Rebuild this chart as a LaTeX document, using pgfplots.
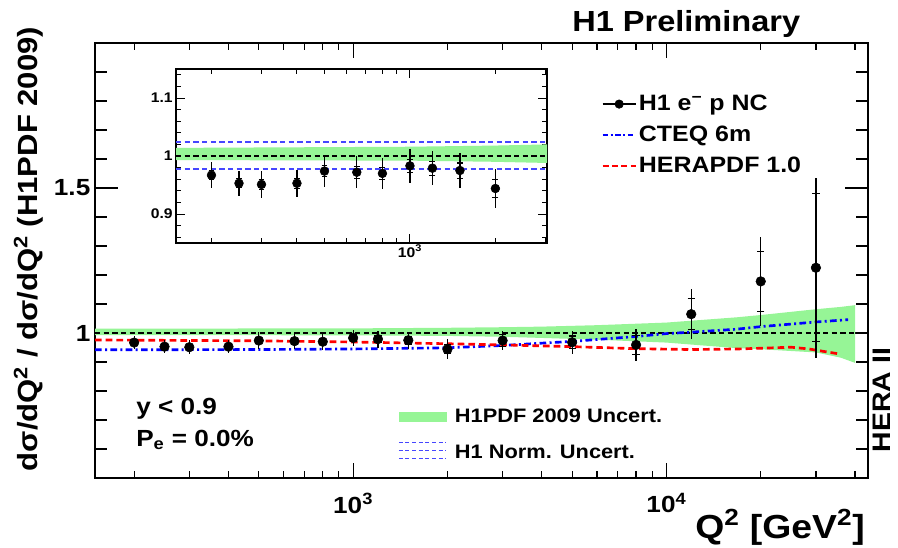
\documentclass[border=0pt]{standalone}
\usepackage{pgfplots}
\usepackage{pgfplotstable}
\pgfplotsset{compat=1.18}
\usepackage{fontspec}
\setmainfont{Liberation Sans}[FakeStretch=1.12]
\definecolor{bandgreen}{RGB}{150,245,150}
\definecolor{normblue}{RGB}{70,70,255}

\pgfplotstableread{
q y tot stat
200 0.967 0.022 0.008
250 0.953 0.022 0.008
300 0.951 0.024 0.009
400 0.953 0.023 0.009
500 0.974 0.028 0.010
650 0.972 0.028 0.010
800 0.970 0.027 0.010
1000 0.983 0.029 0.011
1200 0.979 0.029 0.012
1500 0.975 0.030 0.013
2000 0.944 0.034 0.016
3000 0.974 0.034 0.020
5000 0.968 0.040 0.022
8000 0.959 0.054 0.033
12000 1.065 0.086 0.054
20000 1.178 0.154 0.103
30000 1.225 0.310 0.255
}\hone

\pgfplotstableread{
q y tot stat
200 0.967 0.022 0.008
250 0.953 0.022 0.008
300 0.951 0.024 0.009
400 0.953 0.023 0.009
500 0.974 0.028 0.010
650 0.972 0.028 0.010
800 0.970 0.027 0.010
1000 0.983 0.029 0.011
1200 0.979 0.029 0.012
1500 0.975 0.030 0.013
2000 0.944 0.034 0.016
}\honeinset

\begin{document}
\begin{tikzpicture}
\useasboundingbox (0pt,0pt) rectangle (673.5pt,-410.25pt);

% ---------------- main axis (data + y ticks)
\begin{axis}[
  at={(71.25pt,-358.5pt)}, anchor=south west, scale only axis,
  width=579.75pt, height=326.25pt,
  xmode=log, xmin=150, xmax=44000, ymin=0.5, ymax=2.0,
  axis line style={line width=1.6pt},
  ytick={0.5,1,1.5,2}, yticklabels={,1,1.5,}, minor y tick num=4,
  xtick=\empty, minor xtick={},
  tick align=inside, tick pos=both,
  major tick length=17pt, minor tick length=9pt,
  tick style={line width=0.9pt, black},
  yticklabel style={font=\fontsize{17.5}{20}\selectfont\bfseries},
  clip=true,
]
\addplot[fill=bandgreen, draw=none] coordinates {
 (150,1.015) (1000,1.016) (2000,1.018) (3000,1.020) (4000,1.022) (6000,1.027)
 (10000,1.036) (16700,1.054) (20000,1.062) (30000,1.082) (36000,1.090) (40000,1.096)
 (40000,0.897) (36000,0.915) (30000,0.933) (20000,0.944) (16700,0.948) (10000,0.967)
 (6000,0.977) (4000,0.983) (3000,0.987) (2000,0.990) (1000,0.992) (150,0.993)} -- cycle;
\addplot[black, line width=0.9pt, dash pattern=on 4pt off 2.5pt] coordinates {(150,1) (40000,1)};
\addplot[blue, line width=2pt, dash pattern=on 5pt off 2.5pt on 1.5pt off 2.5pt] coordinates {
 (150,0.942) (500,0.943) (1000,0.945) (2000,0.949) (3000,0.957) (4000,0.965) (5000,0.971)
 (8000,0.988) (10000,0.998) (12000,1.003) (16700,1.013) (20000,1.022) (30000,1.038) (38000,1.046)};
\addplot[red, line width=2pt, dash pattern=on 5pt off 3pt] coordinates {
 (150,0.976) (500,0.973) (1000,0.969) (2000,0.963) (3000,0.959) (5000,0.953) (8000,0.946)
 (12000,0.943) (17000,0.945) (25000,0.951) (28500,0.945) (32000,0.936) (36000,0.927)};
\addplot[black, only marks, mark=*, mark size=3.6pt,
  error bars/.cd, y dir=both, y explicit, error mark=none,
  error bar style={line width=0.9pt, black}] table[x=q, y=y, y error=tot] {\hone};
\addplot[black, only marks, mark=none,
  error bars/.cd, y dir=both, y explicit, error mark=|,
  error mark options={line width=0.9pt, mark size=2.7pt, black},
  error bar style={line width=0.9pt, black}] table[x=q, y=y, y error=stat] {\hone};
\end{axis}

% ---------------- overlay axis (x ticks + top legend)
\begin{axis}[
  at={(71.25pt,-358.5pt)}, anchor=south west, scale only axis,
  width=579.75pt, height=326.25pt,
  xmode=log, xmin=150, xmax=44000, ymin=0.5, ymax=2.0,
  axis line style={draw=none},
  ytick=\empty,
  xtick={1000,10000}, xticklabels={10\textsuperscript{3},10\textsuperscript{4}},
  minor xtick={200,300,400,500,600,700,800,900,2000,3000,4000,5000,6000,7000,8000,9000,20000,30000,40000},
  tick align=inside, tick pos=both,
  major tick length=11.25pt, minor tick length=5.6pt,
  tick style={line width=0.9pt, black},
  xticklabel style={font=\fontsize{17.5}{20}\selectfont\bfseries, yshift=-8pt},
  legend style={at={(0.6546,0.885)}, anchor=north west, draw=none, fill=none,
    inner sep=0pt, font=\fontsize{16.7}{20}\selectfont\bfseries, row sep=7pt,
    nodes={inner sep=1.5pt}},
  legend cell align=left,
]
\addlegendimage{legend image code/.code={\draw[black, line width=0.9pt] (0pt,0pt) -- (24.75pt,0pt); \fill[black] (12.4pt,0pt) circle (3.2pt);}}
\addlegendentry{H1 e\textsuperscript{\char"2212} p NC}
\addlegendimage{legend image code/.code={\draw[blue, line width=2pt, dash pattern=on 4pt off 2pt on 1.5pt off 2pt] (0pt,0pt) -- (24.75pt,0pt);}}
\addlegendentry{CTEQ 6m}
\addlegendimage{legend image code/.code={\draw[red, line width=2pt, dash pattern=on 4.5pt off 2.5pt] (0pt,0pt) -- (24.75pt,0pt);}}
\addlegendentry{HERAPDF 1.0}
\end{axis}

% ---------------- overlay axis (bottom legend)
\begin{axis}[
  at={(71.25pt,-358.5pt)}, anchor=south west, scale only axis,
  width=579.75pt, height=326.25pt,
  xmin=0, xmax=1, ymin=0, ymax=1, hide axis,
  legend style={at={(0.392,0.1632)}, anchor=north west, draw=none, fill=none,
    inner sep=0pt, font=\fontsize{14.6}{18}\selectfont\bfseries, row sep=11pt,
    nodes={inner sep=1.5pt},
    /tikz/every odd column/.append style={column sep=5pt}},
  legend cell align=left,
]
\addlegendimage{legend image code/.code={\fill[bandgreen] (0pt,-3.4pt) rectangle (35.25pt,3.4pt);}}
\addlegendentry{H1PDF 2009 Uncert.}
\addlegendimage{legend image code/.code={
  \draw[draw=normblue, line width=0.75pt, dash pattern=on 3pt off 2pt] (0pt,8pt) -- (35.25pt,8pt);
  \draw[draw=normblue, line width=0.75pt, dash pattern=on 3pt off 2pt] (0pt,2pt) -- (35.25pt,2pt);
  \draw[draw=normblue, line width=0.75pt, dash pattern=on 3pt off 2pt] (0pt,-4.5pt) -- (35.25pt,-4.5pt);}}
\addlegendentry{H1 Norm. Uncert.}
\end{axis}

% ---------------- inset
\begin{axis}[
  at={(132pt,-182.25pt)}, anchor=south west, scale only axis,
  width=278.25pt, height=130.5pt,
  xmode=log, xmin=150, xmax=3040, ymin=0.85, ymax=1.15,
  axis background/.style={fill=white},
  axis line style={line width=0.9pt},
  ytick={0.8,0.9,1,1.1,1.2}, yticklabels={,0.9,1,1.1,}, minor y tick num=4,
  xtick={1000}, xticklabels={10\textsuperscript{3}},
  minor xtick={200,300,400,500,600,700,800,900,2000,3000},
  tick align=inside, tick pos=both,
  major tick length=6.5pt, minor tick length=3.6pt,
  tick style={line width=0.7pt, black},
  ticklabel style={font=\fontsize{10.5}{12}\selectfont\bfseries},
  yticklabel style={xshift=1pt},
  xticklabel style={yshift=2pt},
  clip=true,
]
\addplot[fill=bandgreen, draw=none] coordinates {
 (150,1.014) (1000,1.016) (2000,1.018) (3040,1.020)
 (3040,0.988) (2000,0.990) (1000,0.992) (150,0.993)} -- cycle;
\addplot[normblue, line width=0.9pt, dash pattern=on 4pt off 2.5pt] coordinates {(150,1.024) (3040,1.024)};
\addplot[normblue, line width=1.6pt, dash pattern=on 4pt off 2.5pt] coordinates {(150,0.977) (3040,0.977)};
\addplot[black, line width=0.9pt, dash pattern=on 4pt off 2.5pt] coordinates {(150,1) (3040,1)};
\addplot[black, only marks, mark=*, mark size=3.3pt,
  error bars/.cd, y dir=both, y explicit, error mark=none,
  error bar style={line width=0.9pt, black}] table[x=q, y=y, y error=tot] {\honeinset};
\addplot[black, only marks, mark=none,
  error bars/.cd, y dir=both, y explicit, error mark=|,
  error mark options={line width=0.8pt, mark size=2.2pt, black},
  error bar style={line width=0.8pt, black}] table[x=q, y=y, y error=stat] {\honeinset};
\end{axis}

% ---------------- texts
\node[anchor=base west, inner sep=0pt, font=\fontsize{21.8}{24}\selectfont\bfseries] at (429pt,-23.25pt) {H1 Preliminary};
\node[anchor=base west, inner sep=0pt, font=\fontsize{17.5}{20}\selectfont\bfseries] at (102pt,-310.5pt) {y < 0.9};
\node[anchor=base west, inner sep=0pt, font=\fontsize{17.5}{20}\selectfont\bfseries] at (102pt,-334.5pt) {P\textsubscript{e} = 0.0\%};
\node[anchor=base east, inner sep=0pt, font=\fontsize{25}{30}\selectfont\bfseries] at (648.75pt,-403.5pt) {Q\textsuperscript{2} [GeV\textsuperscript{2}]};
\node[anchor=base, rotate=90, inner sep=0pt, font=\fontsize{20.8}{24}\selectfont\bfseries] at (28pt,-186.75pt) {dσ/dQ\textsuperscript{2} / dσ/dQ\textsuperscript{2} (H1PDF 2009)};
\node[anchor=base, rotate=90, inner sep=0pt, font=\fontsize{19}{22}\selectfont\bfseries] at (668pt,-300pt) {HERA II};
\end{tikzpicture}
\end{document}
